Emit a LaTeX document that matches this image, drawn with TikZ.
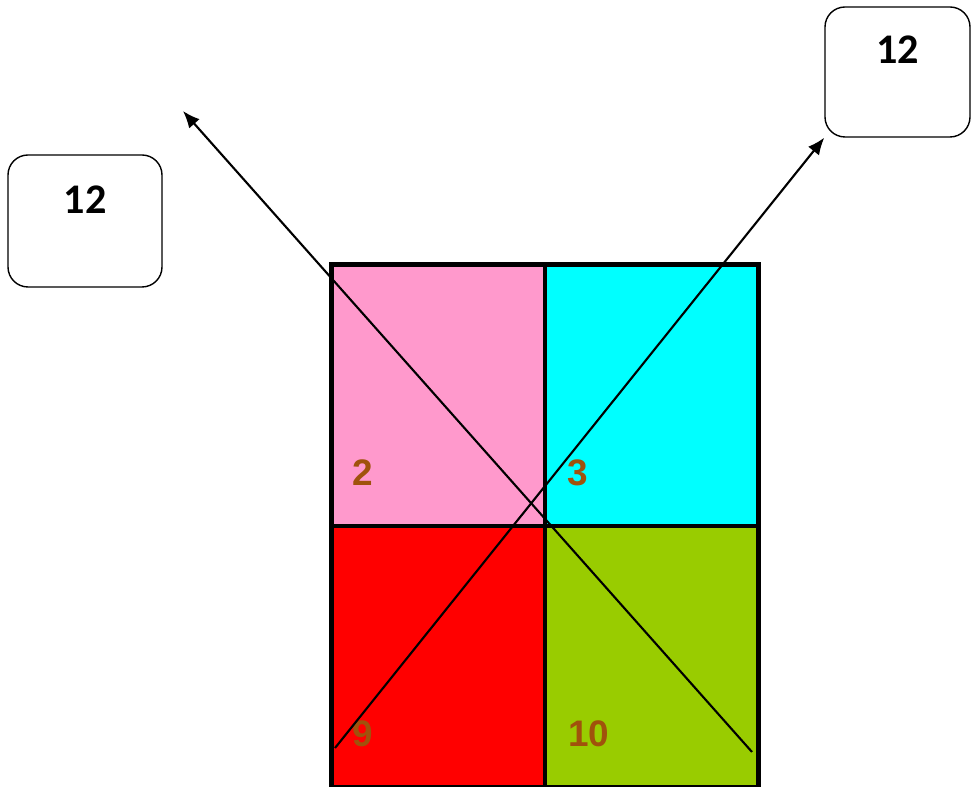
\documentclass[tikz,border=0pt]{standalone}
\usepackage{fontspec}
\setmainfont{Liberation Sans}
\newfontfamily\tagfont{Carlito}
\usetikzlibrary{arrows.meta,positioning,calc}
\definecolor{rose}{HTML}{FF99CC}
\definecolor{aqua}{HTML}{00FFFF}
\definecolor{redc}{HTML}{FF0000}
\definecolor{lime}{HTML}{99CC00}
\definecolor{rust}{HTML}{A0520C}
\tikzset{
  cell/.style={
    draw=black, line width=1.2pt, inner sep=0pt,
    minimum width=4.22cm, minimum height=5.19cm
  },
  frame/.style={draw=black, line width=2.9pt},
  tag/.style={
    draw=black, line width=0.8pt, rounded corners=0.4cm, fill=white,
    minimum width=3.0cm, minimum height=2.62cm
  },
  tagtxt/.style={inner sep=0pt, font=\tagfont\fontsize{24}{24}\selectfont\bfseries},
  numlbl/.style={
    inner sep=0pt, anchor=west, text=rust,
    font=\fontsize{21}{21}\selectfont\bfseries
  },
  arrow/.style={-{Latex[length=3.4mm,width=2.8mm]}, line width=1.2pt, draw=black}
}
\begin{document}
\begin{tikzpicture}
  \useasboundingbox (0,0) rectangle (19.42,15.74);
  % four coloured cells
  \node[cell, fill=rose] (c2) at (8.77,7.84) {};
  \node[cell, fill=aqua, right=0pt of c2] (c3) {};
  \node[cell, fill=redc, below=0pt of c2] (c9) {};
  \node[cell, fill=lime, below=0pt of c3] (c10) {};
  \node[numlbl] (n2) at ($(c2.south west)+(0.40,1.06)$) {2};
  \node[numlbl] (n3) at ($(c3.south west)+(0.44,1.06)$) {3};
  \node[numlbl] (n9) at ($(c9.south west)+(0.40,1.08)$) {9};
  \node[numlbl] (n10) at ($(c10.south west)+(0.46,1.08)$) {10};
  % boxes
  \node[tag, minimum width=3.08cm, minimum height=2.64cm] (tagL) at (1.70,11.32) {};
  \node[tagtxt, below=0.62cm of tagL.north] (tagLt) {12};
  \node[tag, minimum width=2.90cm, minimum height=2.60cm] (tagR) at (17.95,14.30) {};
  \node[tagtxt, below=0.58cm of tagR.north] (tagRt) {12};
  % arrows
  \coordinate (aS) at (15.04,0.70);
  \coordinate (aE) at (3.66,13.52);
  \coordinate (bS) at (6.70,0.78);
  \draw[arrow] (aS) -- (aE);
  \draw[arrow] (bS) -- (tagR.south west);
  \draw[frame] (c2.north west) rectangle (c10.south east);
\end{tikzpicture}
\end{document}
